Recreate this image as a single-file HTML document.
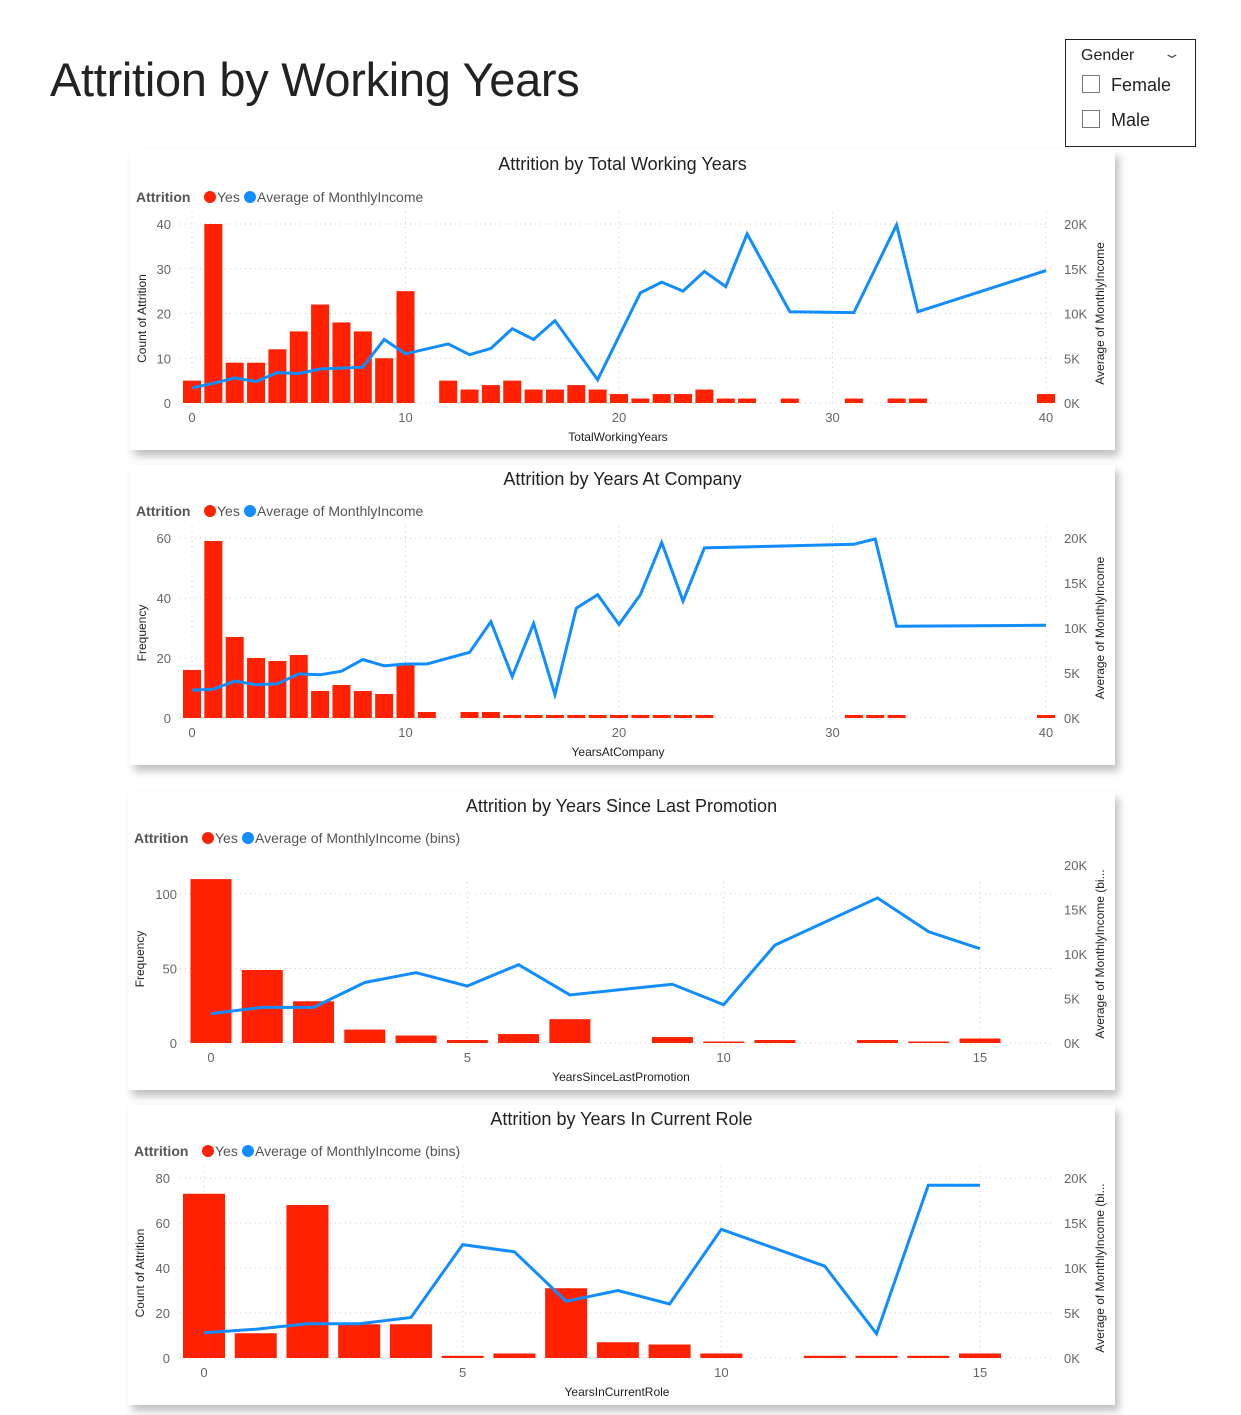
<!DOCTYPE html>
<html><head><meta charset="utf-8">
<style>
body{margin:0;width:1241px;height:1415px;background:#fff;font-family:"Liberation Sans",sans-serif;overflow:hidden;position:relative}
.title{position:absolute;left:50px;top:52px;font-size:47px;color:#222;letter-spacing:-0.3px}
.slicer{position:absolute;left:1065px;top:39px;width:131px;height:108px;border:1px solid #222;box-sizing:border-box;background:#fff}
.slicer .h{position:absolute;left:15px;top:7px;font-size:16px;color:#222}
.slicer .chev{position:absolute;left:100px;top:5px;font-size:14px;color:#555;transform:scaleX(1.6)}
.opt{position:absolute;left:16px;font-size:18px;color:#222}
.opt span{display:inline-block;width:16px;height:16px;border:1px solid #777;vertical-align:-2px;margin-right:11px}
.card{position:absolute;background:#fff;box-shadow:4px 6px 8px rgba(0,0,0,0.25)}
svg text{font-family:"Liberation Sans",sans-serif}
</style></head><body>
<div class="title">Attrition by Working Years</div>
<div class="slicer">
 <div class="h">Gender</div>
 <div class="chev">⌄</div>
 <div class="opt" style="top:35px"><span></span>Female</div>
 <div class="opt" style="top:70px"><span></span>Male</div>
</div>
<div id="charts"></div>
<script>
// Chart 1: Total Working Years
const c1BarX=[0,1,2,3,4,5,6,7,8,9,10,12,13,14,15,16,17,18,19,20,21,22,23,24,25,26,28,31,33,34,40];
const c1BarY=[5,40,9,9,12,16,22,18,16,10,25,5,3,4,5,3,3,4,3,2,1,2,2,3,1,1,1,1,1,1,2];
const c1LineX=[0,1,2,3,4,5,6,7,8,9,10,12,13,14,15,16,17,19,21,22,23,24,25,26,28,31,33,34,40];
const c1LineY=[1.7,2.2,2.8,2.4,3.4,3.3,3.8,3.9,4.0,7.1,5.5,6.6,5.4,6.1,8.3,7.1,9.2,2.6,12.3,13.5,12.5,14.7,13.0,18.9,10.2,10.1,19.9,10.2,14.8];
const c1LeftTicks=[0,10,20,30,40];
// Chart 2: Years At Company
const c2BarX=[0,1,2,3,4,5,6,7,8,9,10,11,13,14,15,16,17,18,19,20,21,22,23,24,31,32,33,40];
const c2BarY=[16,59,27,20,19,21,9,11,9,8,18,2,2,2,1,1,1,1,1,1,1,1,1,1,1,1,1,1];
const c2LineX=[0,1,2,3,4,5,6,7,8,9,10,11,13,14,15,16,17,18,19,20,21,22,23,24,31,32,33,40];
const c2LineY=[3.1,3.2,4.1,3.7,3.8,4.9,4.8,5.2,6.5,5.8,6.0,6.0,7.3,10.7,4.6,10.5,2.6,12.2,13.7,10.4,13.7,19.5,13.0,18.9,19.3,19.9,10.2,10.3];
const c2LeftTicks=[0,20,40,60];
// Chart 3: Years Since Last Promotion
const c3BarX=[0,1,2,3,4,5,6,7,9,10,11,13,14,15];
const c3BarY=[110,49,28,9,5,2,6,16,4,1,2,2,1,3];
const c3LineX=[0,1,2,3,4,5,6,7,9,10,11,13,14,15];
const c3LineY=[3.3,4.0,4.0,6.8,7.9,6.4,8.8,5.4,6.6,4.3,11.0,16.3,12.5,10.6];
const c3LeftTicks=[0,50,100];
// Chart 4: Years In Current Role
const c4BarX=[0,1,2,3,4,5,6,7,8,9,10,12,13,14,15];
const c4BarY=[73,11,68,15,15,1,2,31,7,6,2,1,1,1,2];
const c4LineX=[0,1,2,3,4,5,6,7,8,9,10,12,13,14,15];
const c4LineY=[2.8,3.2,3.8,3.8,4.5,12.6,11.8,6.3,7.5,6.0,14.3,10.2,2.7,19.2,19.2];
const c4LeftTicks=[0,20,40,60,80];
const rightTicks=[0,5,10,15,20];

const NS='http://www.w3.org/2000/svg';
function mk(p,tag,attrs){const e=document.createElementNS(NS,tag);for(const k in attrs)e.setAttribute(k,attrs[k]);p.appendChild(e);return e;}

function chart(cfg){
 const card=document.createElement('div');
 card.className='card';
 
 
 card.style.left=cfg.L+'px';card.style.top=cfg.T+'px';card.style.width=cfg.W+'px';card.style.height=cfg.H+'px';
 document.getElementById('charts').appendChild(card);
 const s=mk(card,'svg',{width:cfg.W,height:cfg.H});
 const L=cfg.L,T=cfg.T;
 const xs=v=>cfg.x0+(v-cfg.xmin)*(cfg.x1-cfg.x0)/(cfg.xmax-cfg.xmin)-L;
 const ys=v=>cfg.y0-v*(cfg.y0-cfg.ytop)/cfg.ymax-T;
 const yr=v=>cfg.y0-v*(cfg.y0-cfg.rtop)/20-T;
 let t=mk(s,'text',{x:cfg.W/2,y:20,'text-anchor':'middle','font-size':18,fill:'#222'});t.textContent=cfg.title;
 
 
 const lg=mk(s,'g',{});
 
 
 t=mk(lg,'text',{x:6,y:cfg.legY,'font-size':14,'font-weight':'bold',fill:'#555'});t.textContent='Attrition';
 mk(lg,'circle',{cx:80,cy:cfg.legY-5,r:6,fill:'#ff2100'});
 t=mk(lg,'text',{x:87,y:cfg.legY,'font-size':14,fill:'#555'});t.textContent='Yes';
 mk(lg,'circle',{cx:120,cy:cfg.legY-5,r:6,fill:'#118dff'});
 t=mk(lg,'text',{x:127,y:cfg.legY,'font-size':14,fill:'#555'});t.textContent=cfg.lineLabel;
 const gx0=180-L,gx1=1052-L;
 cfg.leftTicks.forEach(v=>{
  if(v>0){const g=mk(s,'line',{x1:gx0,x2:gx1,y1:ys(v),y2:ys(v),stroke:'#ccc','stroke-dasharray':'1,4'});
  
  }
  const tx=mk(s,'text',{x:cfg.lx-L,y:ys(v)+5,'text-anchor':'end','font-size':13,fill:'#666'});tx.textContent=v;
  
  
 });
 mk(s,'line',{x1:gx0,x2:gx1,y1:ys(0),y2:ys(0),stroke:'#ccc','stroke-dasharray':'1,4'});
 cfg.xTicks.forEach(v=>{
  mk(s,'line',{x1:xs(v),x2:xs(v),y1:cfg.ytop-T-12,y2:ys(0),stroke:'#ccc','stroke-dasharray':'1,4'});
  const tx=mk(s,'text',{x:xs(v),y:ys(0)+19,'text-anchor':'middle','font-size':13,fill:'#666'});tx.textContent=v;
  
  
 });
 rightTicks.forEach(v=>{
  const tx=mk(s,'text',{x:1064-L,y:yr(v)+5,'font-size':13,fill:'#666'});tx.textContent=v+'K';
  
  
 });
 cfg.barX.forEach((xv,i)=>{
  const y=ys(cfg.barY[i]);
  const r=mk(s,'rect',{x:xs(xv)-cfg.bw/2,y:y,width:cfg.bw,height:ys(0)-y,fill:'#ff2100'});
  
  
 });
 const pts=cfg.lineX.map((xv,i)=>xs(xv)+','+yr(cfg.lineY[i])).join(' ');
 const pl=mk(s,'polyline',{points:pts,fill:'none',stroke:'#118dff','stroke-width':3,'stroke-linejoin':'miter'});
 
 
 t=mk(s,'text',{x:cfg.xtc-L,y:ys(0)+38,'text-anchor':'middle','font-size':12,fill:'#222'});t.textContent=cfg.xTitle;
 
 
 const my=(cfg.y0+cfg.rtop)/2-T;
 t=mk(s,'text',{x:0,y:0,'text-anchor':'middle','font-size':12,fill:'#222',transform:'translate(16,'+(my+5)+') rotate(-90)'});t.textContent=cfg.yTitle;
 
 
 t=mk(s,'text',{x:0,y:0,'text-anchor':'middle','font-size':12,fill:'#222',transform:'translate('+(cfg.W-11)+','+my+') rotate(-90)'});t.textContent=cfg.rTitle;
 
 
}
chart({name:'total-working-years-chart',L:130,T:150,W:985,H:300,title:'Attrition by Total Working Years',legY:52,lineLabel:'Average of MonthlyIncome',lx:171,xtc:618,
 x0:192,x1:1046,xmin:0,xmax:40,y0:403,ytop:224,rtop:224,ymax:40,bw:18,barX:c1BarX,barY:c1BarY,lineX:c1LineX,lineY:c1LineY,leftTicks:c1LeftTicks,xTicks:[0,10,20,30,40],
 xTitle:'TotalWorkingYears',yTitle:'Count of Attrition',rTitle:'Average of MonthlyIncome'});
chart({name:'years-at-company-chart',L:130,T:465,W:985,H:300,title:'Attrition by Years At Company',legY:51,lineLabel:'Average of MonthlyIncome',lx:171,xtc:618,
 x0:192,x1:1046,xmin:0,xmax:40,y0:718,ytop:538,rtop:538,ymax:60,bw:18,barX:c2BarX,barY:c2BarY,lineX:c2LineX,lineY:c2LineY,leftTicks:c2LeftTicks,xTicks:[0,10,20,30,40],
 xTitle:'YearsAtCompany',yTitle:'Frequency',rTitle:'Average of MonthlyIncome'});
chart({name:'years-since-promotion-chart',L:128,T:792,W:987,H:298,title:'Attrition by Years Since Last Promotion',legY:51,lineLabel:'Average of MonthlyIncome (bins)',lx:177,xtc:621,
 x0:211,x1:980,xmin:0,xmax:15,y0:1043,ytop:894,rtop:865,ymax:100,bw:41,barX:c3BarX,barY:c3BarY,lineX:c3LineX,lineY:c3LineY,leftTicks:c3LeftTicks,xTicks:[0,5,10,15],
 xTitle:'YearsSinceLastPromotion',yTitle:'Frequency',rTitle:'Average of MonthlyIncome (bi...'});
chart({name:'years-in-current-role-chart',L:128,T:1105,W:987,H:300,title:'Attrition by Years In Current Role',legY:51,lineLabel:'Average of MonthlyIncome (bins)',lx:170,xtc:617,
 x0:204,x1:980,xmin:0,xmax:15,y0:1358,ytop:1178,rtop:1178,ymax:80,bw:42,barX:c4BarX,barY:c4BarY,lineX:c4LineX,lineY:c4LineY,leftTicks:c4LeftTicks,xTicks:[0,5,10,15],
 xTitle:'YearsInCurrentRole',yTitle:'Count of Attrition',rTitle:'Average of MonthlyIncome (bi...'});
</script>
</body></html>
